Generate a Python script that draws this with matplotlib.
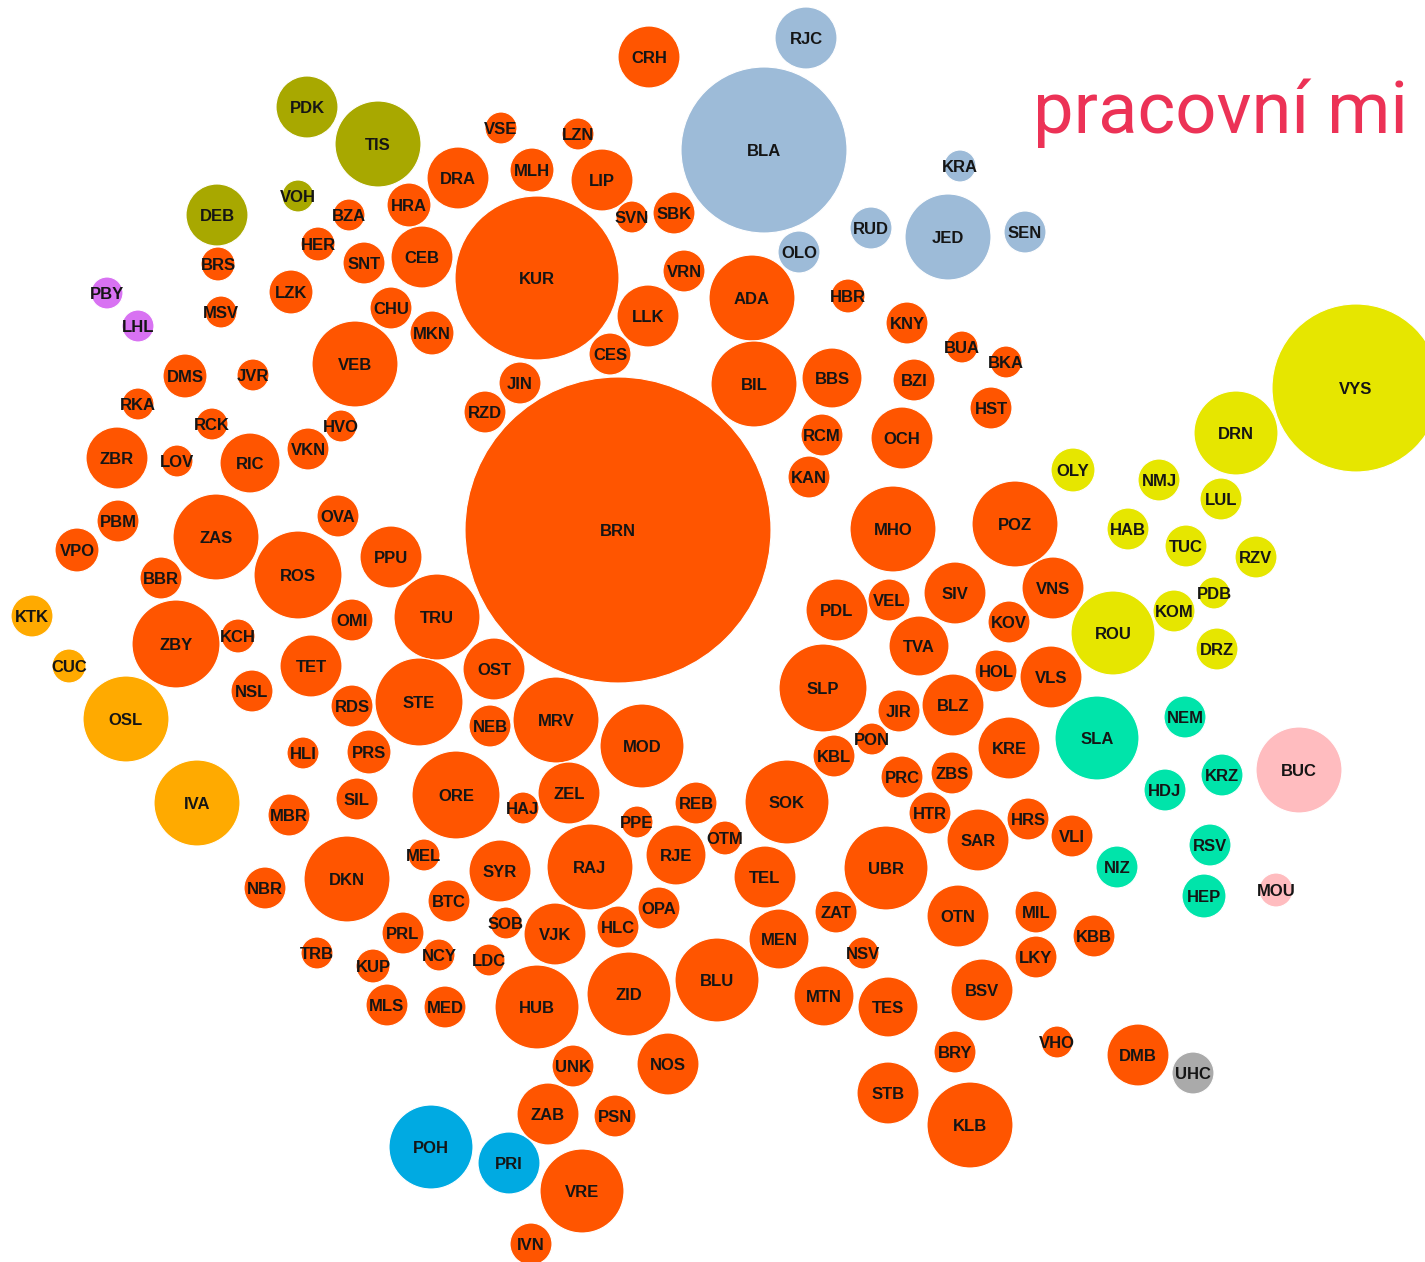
import matplotlib
matplotlib.use("Agg")
import matplotlib.pyplot as plt
from matplotlib.patches import Circle

# ── bubble data (pixel layout of the packed chart) ───────────────────────────

orange_labels = [
    "CRH", "VSE", "LZN", "MLH", "LIP", "DRA", "HRA", "BZA", "HER", "SNT",
    "CEB", "SVN", "SBK", "KUR", "VRN", "LLK", "ADA", "HBR", "CES", "JIN",
    "RZD", "BIL", "BBS", "BZI", "KNY", "BUA", "BKA", "HST", "RCM", "OCH",
    "KAN", "BRS", "LZK", "MSV", "CHU", "MKN", "VEB", "DMS", "JVR", "RKA",
    "RCK", "HVO", "VKN", "ZBR", "LOV", "RIC", "PBM", "ZAS", "OVA", "VPO",
    "BBR", "ROS", "PPU", "OMI", "TRU", "ZBY", "KCH", "TET", "NSL", "RDS",
    "STE", "OST", "BRN", "HLI", "PRS", "NEB", "MRV", "MOD", "SIL", "MBR",
    "ORE", "HAJ", "ZEL", "PPE", "REB", "SOK", "OTM", "RJE", "RAJ", "SYR",
    "MEL", "DKN", "NBR", "BTC", "PRL", "TRB", "KUP", "NCY", "SOB", "VJK",
    "HLC", "OPA", "TEL", "LDC", "MLS", "MED", "HUB", "ZID", "BLU", "MEN",
    "ZAT", "NSV", "MTN", "TES", "UNK", "NOS", "ZAB", "PSN", "VRE", "IVN",
    "STB", "KLB", "BRY", "BSV", "LKY", "MIL", "KBB", "VHO", "DMB", "OTN",
    "UBR", "SAR", "HRS", "VLI", "HTR", "ZBS", "PRC", "KBL", "PON", "JIR",
    "BLZ", "KRE", "HOL", "VLS", "KOV", "VNS", "POZ", "SIV", "VEL", "PDL",
    "TVA", "SLP", "MHO",
]
orange_x = [
    649, 501, 578, 532, 602, 458, 409, 349, 318, 364,
    422, 632, 674, 537, 684, 648, 752, 848, 610, 520,
    485, 754, 832, 914, 907, 962, 1006, 991, 822, 902,
    809, 218, 291, 221, 391, 432, 355, 185, 253, 138,
    212, 341, 308, 117, 177, 250, 118, 216, 338, 77,
    161, 298, 391, 352, 437, 176, 238, 311, 252, 352,
    419, 494, 618, 303, 369, 490, 556, 642, 357, 289,
    456, 523, 569, 637, 696, 787, 725, 676, 590, 500,
    424, 347, 265, 449, 403, 317, 373, 439, 506, 555,
    618, 659, 765, 489, 387, 445, 537, 629, 717, 779,
    836, 863, 824, 888, 573, 668, 548, 615, 582, 531,
    888, 970, 955, 982, 1036, 1036, 1094, 1057, 1138, 958,
    886, 978, 1028, 1072, 930, 952, 902, 834, 872, 899,
    953, 1009, 996, 1051, 1009, 1053, 1015, 955, 889, 837,
    919, 823, 893,
]
orange_y = [
    57, 128, 134, 170, 180, 178, 205, 215, 244, 263,
    257, 217, 213, 278, 271, 316, 298, 296, 354, 383,
    412, 384, 378, 380, 323, 347, 362, 408, 435, 438,
    477, 264, 292, 312, 308, 333, 364, 376, 375, 404,
    424, 426, 449, 458, 461, 463, 521, 537, 516, 550,
    578, 575, 557, 620, 617, 644, 636, 666, 691, 706,
    702, 669, 530, 753, 752, 726, 720, 746, 799, 815,
    795, 808, 793, 822, 803, 802, 838, 855, 867, 871,
    855, 879, 888, 901, 933, 953, 966, 955, 923, 934,
    927, 908, 877, 960, 1005, 1007, 1007, 994, 980, 939,
    912, 953, 996, 1007, 1066, 1064, 1114, 1116, 1191, 1244,
    1093, 1125, 1052, 990, 957, 912, 936, 1042, 1055, 916,
    868, 840, 819, 836, 813, 773, 777, 756, 739, 711,
    705, 748, 671, 677, 622, 588, 524, 593, 600, 610,
    646, 688, 529,
]
orange_r = [
    31, 16, 16, 22, 31, 31, 22, 16, 17, 21,
    31, 16, 21, 82, 21, 31, 43, 17, 21, 21,
    21, 43, 30, 21, 21, 16, 16, 21, 21, 31,
    21, 17, 22, 16, 21, 22, 43, 22, 16, 16,
    16, 16, 21, 31, 16, 30, 21, 43, 21, 22,
    21, 44, 31, 21, 43, 44, 17, 31, 21, 21,
    44, 31, 153, 16, 22, 21, 43, 42, 21, 21,
    44, 16, 31, 16, 21, 42, 17, 30, 43, 31,
    16, 43, 21, 21, 21, 16, 17, 16, 16, 31,
    21, 21, 31, 16, 21, 21, 42, 42, 42, 30,
    21, 16, 30, 30, 21, 31, 31, 21, 42, 21,
    31, 43, 21, 31, 21, 21, 21, 16, 31, 31,
    42, 31, 21, 21, 21, 21, 21, 21, 16, 21,
    31, 31, 21, 31, 21, 31, 43, 31, 21, 31,
    30, 44, 43,
]

steel_labels = ["BLA", "RJC", "OLO", "RUD", "JED", "KRA", "SEN"]
steel_x = [764, 806, 799, 871, 948, 960, 1025]
steel_y = [150, 38, 252, 228, 237, 166, 232]
steel_r = [83, 31, 21, 21, 43, 16, 21]

olive_labels = ["PDK", "TIS", "DEB", "VOH"]
olive_x = [307, 378, 217, 298]
olive_y = [107, 144, 215, 196]
olive_r = [31, 43, 31, 16]

violet_labels = ["PBY", "LHL"]
violet_x = [107, 138]
violet_y = [293, 326]
violet_r = [16, 16]

yellow_labels = ["VYS", "DRN", "OLY", "NMJ", "LUL", "HAB", "TUC", "RZV",
                 "PDB", "KOM", "ROU", "DRZ"]
yellow_x = [1356, 1236, 1073, 1159, 1221, 1128, 1186, 1256, 1214, 1174, 1113, 1217]
yellow_y = [388, 433, 470, 480, 499, 529, 546, 557, 593, 611, 633, 649]
yellow_r = [84, 42, 22, 21, 21, 21, 21, 21, 16, 21, 42, 21]

amber_labels = ["KTK", "CUC", "OSL", "IVA"]
amber_x = [32, 69, 126, 197]
amber_y = [616, 666, 719, 803]
amber_r = [21, 17, 43, 43]

teal_labels = ["SLA", "NEM", "KRZ", "HDJ", "NIZ", "RSV", "HEP"]
teal_x = [1097, 1185, 1222, 1165, 1117, 1210, 1204]
teal_y = [738, 717, 775, 790, 867, 845, 896]
teal_r = [42, 21, 21, 21, 21, 21, 22]

pink_labels = ["BUC", "MOU"]
pink_x = [1299, 1276]
pink_y = [770, 890]
pink_r = [43, 17]

blue_labels = ["POH", "PRI"]
blue_x = [431, 509]
blue_y = [1147, 1163]
blue_r = [42, 31]

grey_labels = ["UHC"]
grey_x = [1193]
grey_y = [1073]
grey_r = [21]

TITLE = "pracovní mi"

groups = [
    (orange_labels, orange_x, orange_y, orange_r, "#ff5500"),
    (steel_labels, steel_x, steel_y, steel_r, "#9dbbd8"),
    (olive_labels, olive_x, olive_y, olive_r, "#a8a800"),
    (violet_labels, violet_x, violet_y, violet_r, "#d872f2"),
    (yellow_labels, yellow_x, yellow_y, yellow_r, "#e6e600"),
    (amber_labels, amber_x, amber_y, amber_r, "#ffaa00"),
    (teal_labels, teal_x, teal_y, teal_r, "#00e4aa"),
    (pink_labels, pink_x, pink_y, pink_r, "#ffbcbf"),
    (blue_labels, blue_x, blue_y, blue_r, "#00aae2"),
    (grey_labels, grey_x, grey_y, grey_r, "#aaaaaa"),
]

# ── figure ────────────────────────────────────────────────────────────────────

W, H = 1425, 1262
fig = plt.figure(figsize=(W / 100, H / 100), dpi=100)
ax = fig.add_axes([0, 0, 1, 1])
ax.set_xlim(0, W)
ax.set_ylim(H, 0)
ax.set_aspect("equal")
ax.axis("off")

for labels, xs, ys, rs, color in groups:
    for lab, x, y, r in zip(labels, xs, ys, rs):
        ax.add_patch(Circle((x, y), r, facecolor=color, edgecolor="white", linewidth=0.8))
        ax.text(x, y, lab, ha="center", va="center_baseline",
                fontsize=12, fontweight="bold", color="#151515",
                family=["Liberation Sans", "DejaVu Sans"])

# title is a condensed face in the original; no condensed font here, so size down to fit
ax.text(1033, 133, TITLE, ha="left", va="baseline", fontsize=52,
        color="#ec3256", family="Roboto")

fig.savefig("out.png", dpi=100)
plt.close(fig)
